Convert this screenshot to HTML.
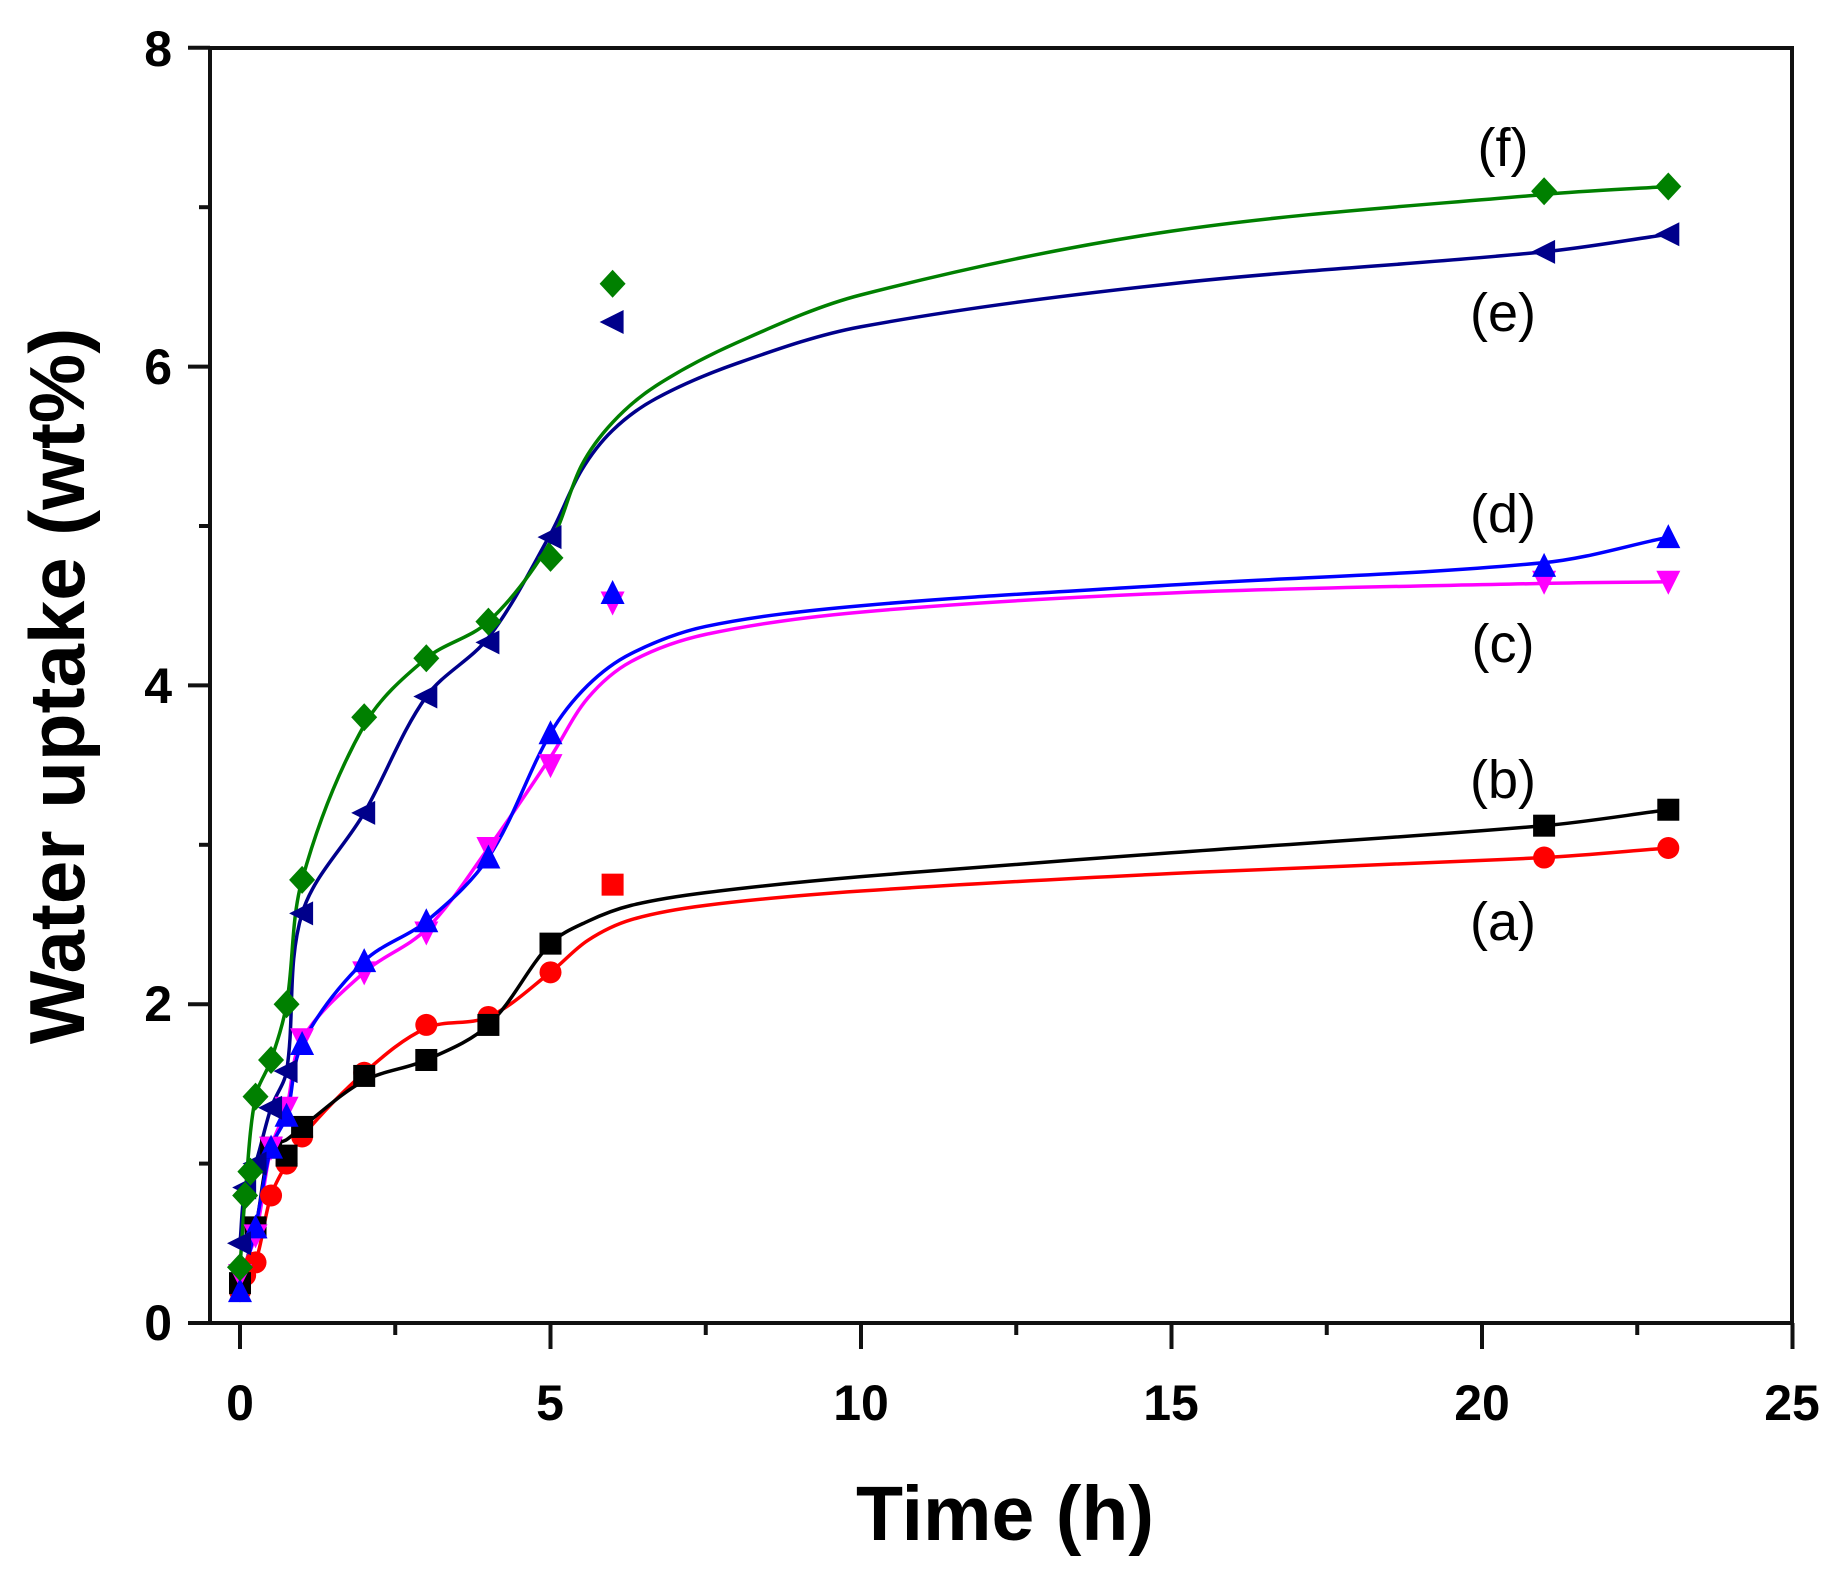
<!DOCTYPE html>
<html><head><meta charset="utf-8"><style>
html,body{margin:0;padding:0;background:#fff;}
svg text{font-family:"Liberation Sans",Arial,sans-serif;}
</style></head><body>
<svg id="s" width="1844" height="1571" xmlns="http://www.w3.org/2000/svg">
<rect width="1844" height="1571" fill="#fff"/>
<g id="plot"></g>
<rect x="210" y="48" width="1582" height="1275" fill="none" stroke="#111" stroke-width="4"/>
<g font-size="50" font-weight="bold" fill="#000" text-anchor="middle">
<text x="240" y="1420">0</text><text x="550" y="1420">5</text><text x="861" y="1420">10</text>
<text x="1171" y="1420">15</text><text x="1482" y="1420">20</text><text x="1792" y="1420">25</text>
</g>
<g font-size="50" font-weight="bold" fill="#000" text-anchor="end">
<text x="172" y="1340">0</text><text x="172" y="1021">2</text><text x="172" y="703">4</text>
<text x="172" y="384">6</text><text x="172" y="66">8</text>
</g>
<text x="1005" y="1540" font-size="77" font-weight="bold" text-anchor="middle">Time (h)</text>
<text transform="translate(84,686) rotate(-90)" font-size="78" font-weight="bold" text-anchor="middle">Water uptake (wt%)</text>
<g font-size="54" text-anchor="middle" fill="#000">
<text x="1503" y="166">(f)</text><text x="1503" y="331">(e)</text><text x="1503" y="532">(d)</text>
<text x="1503" y="662">(c)</text><text x="1503" y="798">(b)</text><text x="1503" y="940">(a)</text>
</g>
</svg>
<script>
var X=function(t){return 240+62.1*t},Y=function(v){return 1323-159.4*v};
var P=document.getElementById('plot'),h='';
for(var t=0;t<=25;t+=2.5){var L=(t%5==0)?26:12;h+='<line x1="'+X(t)+'" y1="1323" x2="'+X(t)+'" y2="'+(1323+L)+'" stroke="#111" stroke-width="4"/>';}
for(var v=0;v<=8;v+=1){var L=(v%2==0)?22:11;h+='<line x1="210" y1="'+Y(v)+'" x2="'+(210-L)+'" y2="'+Y(v)+'" stroke="#111" stroke-width="4"/>';}
function cr(pts){var p=pts.map(function(a){return[X(a[0]),Y(a[1])]});var d='M'+p[0][0]+','+p[0][1];
for(var i=0;i<p.length-1;i++){var p0=p[i-1]||p[i],p1=p[i],p2=p[i+1],p3=p[i+2]||p2;
var d1=Math.hypot(p2[0]-p1[0],p2[1]-p1[1]);
var l0=Math.hypot(p2[0]-p0[0],p2[1]-p0[1])||1,l1=Math.hypot(p3[0]-p1[0],p3[1]-p1[1])||1;
var k=d1/3;
d+=' C'+(p1[0]+(p2[0]-p0[0])/l0*k)+','+(p1[1]+(p2[1]-p0[1])/l0*k)+' '+(p2[0]-(p3[0]-p1[0])/l1*k)+','+(p2[1]-(p3[1]-p1[1])/l1*k)+' '+p2[0]+','+p2[1];}return d;}
var tail=function(a){return a;};
var S=[
{c:'#ff0000',m:'o',d:[[0,0.2],[0.083,0.3],[0.25,0.38],[0.5,0.8],[0.75,1.0],[1,1.17],[2,1.57],[3,1.87],[4,1.92],[5,2.2],[21,2.92],[23,2.98]],x:[[6,2.75,'s']],
 cv:[[0,0.2],[0.25,0.38],[0.5,0.8],[0.75,1.0],[1,1.17],[2,1.57],[3,1.85],[4,1.92],[5,2.2],[5.6,2.4],[6.3,2.53],[7.5,2.62],[10,2.71],[15,2.82],[21,2.92],[23,2.98]]},
{c:'#000000',m:'s',d:[[0,0.25],[0.25,0.6],[0.5,1.1],[0.75,1.05],[1,1.23],[2,1.55],[3,1.65],[4,1.87],[5,2.38],[21,3.12],[23,3.22]],x:[],
 cv:[[0,0.25],[0.25,0.6],[0.5,1.1],[0.75,1.15],[1,1.23],[2,1.52],[3,1.65],[4,1.87],[5,2.38],[5.6,2.52],[6.3,2.62],[7.5,2.7],[10,2.8],[15,2.95],[21,3.12],[23,3.22]]},
{c:'#ff00ff',m:'v',d:[[0,0.3],[0.25,0.55],[0.5,1.1],[0.75,1.35],[1,1.78],[2,2.2],[3,2.45],[4,2.98],[5,3.5],[21,4.65],[23,4.65]],x:[[6,4.52,'v']],
 cv:[[0,0.3],[0.25,0.55],[0.5,1.1],[0.75,1.35],[1,1.78],[2,2.2],[3,2.47],[4,2.98],[5,3.55],[5.6,3.92],[6.3,4.15],[7.5,4.32],[10,4.46],[15,4.58],[21,4.64],[23,4.65]]},
{c:'#0000ff',m:'^',d:[[0,0.2],[0.25,0.6],[0.5,1.1],[0.75,1.3],[1,1.75],[2,2.27],[3,2.52],[4,2.92],[5,3.7],[21,4.75],[23,4.93]],x:[[6,4.58,'^']],
 cv:[[0,0.2],[0.25,0.6],[0.5,1.1],[0.75,1.3],[1,1.75],[2,2.27],[3,2.52],[4,2.92],[5,3.7],[5.6,4.0],[6.3,4.2],[7.5,4.37],[10,4.5],[15,4.63],[21,4.77],[23,4.93]]},
{c:'#00008b',m:'<',d:[[0,0.5],[0.083,0.85],[0.25,1.0],[0.5,1.35],[0.75,1.58],[1,2.57],[2,3.2],[3,3.93],[4,4.27],[5,4.93],[21,6.72],[23,6.83]],x:[[6,6.28,'<']],
 cv:[[0,0.5],[0.083,0.85],[0.25,1.0],[0.5,1.35],[0.75,1.58],[1,2.57],[2,3.2],[3,3.93],[4,4.3],[5,4.95],[5.5,5.35],[6,5.6],[6.7,5.8],[8,6.02],[10,6.25],[15,6.52],[21,6.72],[23,6.83]]},
{c:'#008000',m:'d',d:[[0,0.35],[0.083,0.8],[0.167,0.95],[0.25,1.42],[0.5,1.65],[0.75,2.0],[1,2.78],[2,3.8],[3,4.17],[4,4.4],[5,4.8],[21,7.1],[23,7.13]],x:[[6,6.52,'d']],
 cv:[[0,0.35],[0.083,0.8],[0.25,1.42],[0.5,1.65],[0.75,2.0],[1,2.78],[2,3.75],[3,4.17],[4,4.4],[5,4.9],[5.5,5.38],[6,5.65],[6.7,5.88],[8,6.15],[10,6.45],[15,6.85],[21,7.08],[23,7.13]]}];
function mk(x,y,m,c){var r=11;x=X(x);y=Y(y);
if(m=='o')return '<circle cx="'+x+'" cy="'+y+'" r="'+r+'" fill="'+c+'"/>';
if(m=='s')return '<rect x="'+(x-r)+'" y="'+(y-r)+'" width="'+2*r+'" height="'+2*r+'" fill="'+c+'"/>';
var pt;if(m=='^')pt=[[x,y-r-2],[x+r+1,y+r],[x-r-1,y+r]];if(m=='v')pt=[[x,y+r+2],[x+r+1,y-r],[x-r-1,y-r]];
if(m=='<')pt=[[x-r-2,y],[x+r,y-r-1],[x+r,y+r+1]];if(m=='d')pt=[[x,y-r-3],[x+r+2,y],[x,y+r+3],[x-r-2,y]];
return '<polygon points="'+pt.map(function(a){return a.join(',')}).join(' ')+'" fill="'+c+'"/>';}
S.forEach(function(s){h+='<path d="'+cr(s.cv)+'" fill="none" stroke="'+s.c+'" stroke-width="3.5"/>';});
S.forEach(function(s){s.d.forEach(function(p){h+=mk(p[0],p[1],s.m,s.c)});s.x.forEach(function(p){h+=mk(p[0],p[1],p[2],s.c)});});
P.innerHTML=h;
</script>
</body></html>
